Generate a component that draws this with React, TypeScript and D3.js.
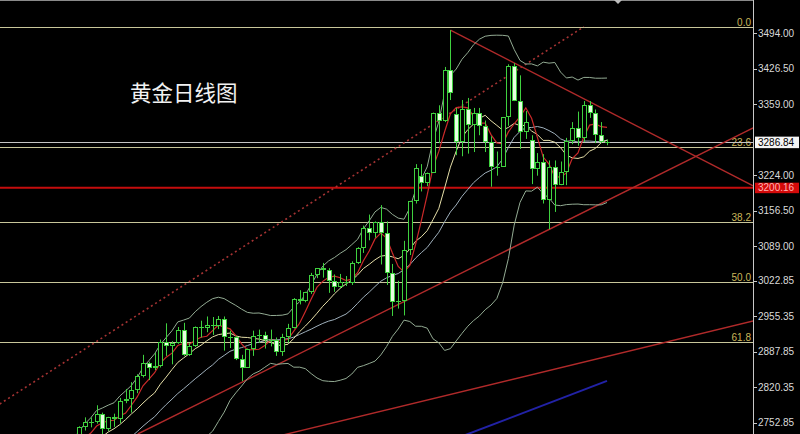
import React from 'react';
import * as d3 from 'd3';

const W = 800;
const H = 434;

const title = '黄金日线图';

const dates = [
  '2024-12-02','2024-12-03','2024-12-04','2024-12-05','2024-12-06','2024-12-09','2024-12-10','2024-12-11','2024-12-12','2024-12-13',
  '2024-12-16','2024-12-17','2024-12-18','2024-12-19','2024-12-20','2024-12-23','2024-12-24','2024-12-26','2024-12-27','2024-12-30',
  '2024-12-31','2025-01-02','2025-01-03','2025-01-06','2025-01-07','2025-01-08','2025-01-09','2025-01-10','2025-01-13','2025-01-14',
  '2025-01-15','2025-01-16','2025-01-17','2025-01-20','2025-01-21','2025-01-22','2025-01-23','2025-01-24','2025-01-27','2025-01-28',
  '2025-01-29','2025-01-30','2025-01-31','2025-02-03','2025-02-04','2025-02-05','2025-02-06','2025-02-07','2025-02-10','2025-02-11',
  '2025-02-12','2025-02-13','2025-02-14','2025-02-17','2025-02-18','2025-02-19','2025-02-20','2025-02-21','2025-02-24','2025-02-25',
  '2025-02-26','2025-02-27','2025-02-28','2025-03-03','2025-03-04','2025-03-05','2025-03-06','2025-03-07','2025-03-10','2025-03-11',
  '2025-03-12','2025-03-13','2025-03-14','2025-03-17','2025-03-18','2025-03-19','2025-03-20','2025-03-21','2025-03-24','2025-03-25',
  '2025-03-26','2025-03-27','2025-03-28','2025-03-31','2025-04-01','2025-04-02','2025-04-03','2025-04-04','2025-04-07','2025-04-08',
  '2025-04-09','2025-04-10','2025-04-11','2025-04-14','2025-04-15','2025-04-16','2025-04-17','2025-04-21','2025-04-22','2025-04-23',
  '2025-04-24','2025-04-25','2025-04-28','2025-04-29','2025-04-30','2025-05-01','2025-05-02','2025-05-05','2025-05-06','2025-05-07',
  '2025-05-08','2025-05-09','2025-05-12','2025-05-13','2025-05-14','2025-05-15','2025-05-16','2025-05-19','2025-05-20','2025-05-21',
  '2025-05-22','2025-05-23','2025-05-26','2025-05-27','2025-05-28','2025-05-29',
];

const opens = [
  2651,2639,2643,2650,2632,2633,2661,2694,2718,2681,
  2648,2652,2646,2587,2594,2622,2612,2617,2634,2621,
  2606,2624,2658,2640,2635,2648,2661,2670,2689,2663,
  2677,2697,2715,2703,2708,2745,2755,2754,2770,2740,
  2763,2760,2794,2798,2815,2842,2866,2856,2861,2907,
  2898,2904,2929,2882,2898,2935,2933,2939,2936,2951,
  2915,2916,2875,2857,2893,2918,2920,2910,2910,2888,
  2916,2934,2988,2984,3001,3034,3047,3043,3023,3011,
  3020,3019,3057,3085,3124,3113,3134,3113,3037,2982,
  2985,3082,3175,3222,3210,3229,3343,3327,3424,3340,
  3288,3349,3319,3343,3317,3288,3239,3240,3334,3431,
  3365,3306,3290,3235,3249,3177,3240,3205,3230,3289,
  3314,3294,3357,3342,3300,3288,
];

const highs = [
  2658,2650,2658,2656,2645,2668,2698,2726,2721,2689,
  2660,2655,2659,2625,2632,2631,2622,2638,2638,2632,
  2626,2661,2665,2650,2654,2670,2674,2697,2691,2684,
  2699,2724,2726,2715,2746,2763,2763,2786,2772,2764,
  2770,2800,2817,2830,2845,2882,2869,2886,2911,2942,
  2908,2935,2943,2904,2936,2947,2955,2954,2956,2955,
  2928,2918,2882,2894,2928,2930,2926,2930,2915,2922,
  2941,2990,3005,3002,3038,3047,3057,3047,3035,3036,
  3032,3060,3087,3128,3149,3136,3167,3136,3055,3023,
  3099,3175,3245,3245,3229,3343,3357,3430,3500,3352,
  3367,3371,3352,3352,3328,3298,3269,3334,3435,3437,
  3414,3346,3300,3266,3264,3252,3252,3250,3295,3325,
  3345,3365,3365,3349,3325,3292,
];

const lows = [
  2622,2628,2631,2613,2614,2630,2654,2688,2679,2643,
  2642,2630,2584,2583,2591,2604,2611,2614,2615,2597,
  2599,2623,2635,2614,2623,2644,2656,2662,2656,2660,
  2667,2690,2700,2690,2700,2738,2744,2751,2730,2737,
  2745,2752,2790,2772,2809,2839,2834,2853,2858,2880,
  2864,2903,2880,2880,2897,2915,2925,2920,2931,2890,
  2895,2872,2832,2857,2880,2905,2894,2898,2880,2880,
  2905,2932,2978,2982,2998,3028,3029,3000,3002,3009,
  3013,3015,3055,3076,3100,3105,3054,3015,2956,2970,
  2957,3072,3170,3193,3203,3228,3285,3325,3367,3262,
  3260,3265,3268,3300,3268,3202,3223,3240,3318,3365,
  3274,3293,3207,3223,3170,3121,3154,3205,3205,3283,
  3280,3287,3333,3285,3285,3281,
];

const closes = [
  2639,2643,2650,2632,2633,2661,2694,2718,2681,2648,
  2652,2646,2587,2594,2622,2612,2617,2634,2621,2606,
  2624,2658,2640,2635,2648,2661,2670,2689,2663,2677,
  2697,2715,2703,2708,2745,2755,2754,2770,2740,2763,
  2760,2794,2798,2815,2842,2866,2856,2861,2907,2898,
  2904,2929,2882,2898,2935,2933,2939,2936,2951,2915,
  2916,2875,2857,2893,2918,2920,2910,2910,2888,2916,
  2934,2988,2984,3001,3034,3047,3043,3023,3011,3020,
  3019,3057,3085,3124,3113,3134,3113,3037,2982,2985,
  3082,3175,3237,3210,3229,3343,3327,3424,3381,3288,
  3349,3319,3343,3317,3288,3239,3240,3334,3431,3365,
  3306,3325,3235,3249,3177,3240,3205,3230,3289,3314,
  3294,3357,3342,3300,3288,3287,
];

// price axis
const axisTicks = [3494.0, 3426.5, 3359.0, 3224.0, 3156.5, 3089.0, 3022.85, 2955.35, 2887.85, 2820.35, 2752.85];
const priceTop = 3557.4;
const priceBottom = 2731.3;

// Fibonacci retracement
const fibLevels = [0, 23.6, 38.2, 50.0, 61.8];
const fibLabels = ['0.0', '23.6', '38.2', '50.0', '61.8'];
const fibHigh = 3506;
const fibLow = 2535;

const bidPrice = 3286.84;
const redLevel = 3200.16;

// trend lines: [bars back from last candle, price]
const dottedChannel = [[104.7, 2788.4], [3.97, 3506.6]];
const descendLine = [[27, 3500], [-25.2, 3203.4]];
const supportLine = [[80.9, 2731.3], [-25.2, 3313.8]];
const lowerLine = [[56.4, 2728], [-25.2, 2946.4]];
const blueLine = [[25, 2727], [0, 2832.3]];

const BAR_SPACING = 5.8;
const LAST_X = 607;
const PLOT_R = 753;

const MA_FAST = 5;
const MA_MID = 10;
const BB_N = 20;

function sma(vals: number[], n: number): (number | null)[] {
  return vals.map((_, i) => (i < n - 1 ? null : d3.mean(vals.slice(i - n + 1, i + 1)) as number));
}
function sdev(vals: number[], n: number): (number | null)[] {
  return vals.map((_, i) => {
    if (i < n - 1) return null;
    const s = vals.slice(i - n + 1, i + 1);
    const m = d3.mean(s) as number;
    return Math.sqrt(d3.mean(s.map((v) => (v - m) * (v - m))) as number);
  });
}

export default function App() {
  const N = dates.length;
  const last = N - 1;
  const x = d3.scaleLinear()
    .domain([last - LAST_X / BAR_SPACING, last + (PLOT_R - LAST_X) / BAR_SPACING])
    .range([0, PLOT_R]);
  const y = d3.scaleLinear().domain([priceBottom, priceTop]).range([H, 0]);

  const ma5 = sma(closes, MA_FAST);
  const ma10 = sma(closes, MA_MID);
  const mid = sma(closes, BB_N);
  const sd = sdev(closes, BB_N);
  const upper = mid.map((m, i) => (m == null ? null : m + 2 * (sd[i] as number)));
  const lower = mid.map((m, i) => (m == null ? null : m - 2 * (sd[i] as number)));

  const line = d3.line<number | null>()
    .defined((d) => d != null)
    .x((_, i) => x(i))
    .y((d) => y(d as number));

  const tl = (pts: number[][]) =>
    d3.line<number[]>().x((p) => x(last - p[0])).y((p) => y(p[1]))(pts) as string;

  const green = '#3fd13f';
  const fibColor = '#c8c69a';
  const fibText = '#cbb75a';
  const trendRed = '#b02a2a';
  const axisFont = 'Liberation Sans, Arial, sans-serif';

  return (
    <svg width={W} height={H} style={{ position: 'absolute', left: 0, top: 0, display: 'block', background: '#000' }}>
      <defs>
        <clipPath id="plot">
          <rect x={0} y={0} width={PLOT_R} height={H} />
        </clipPath>
      </defs>
      <rect x={0} y={0} width={W} height={H} fill="#000" />

      <g clipPath="url(#plot)">
        {/* fib lines */}
        {fibLevels.map((lv, i) => {
          const p = fibHigh - ((fibHigh - fibLow) * lv) / 100;
          const yy = Math.round(y(p)) + 0.5;
          return (
            <g key={'fib' + i}>
              <line x1={0} x2={PLOT_R} y1={yy} y2={yy} stroke={fibColor} strokeWidth={1} />
              <text x={PLOT_R - 2} y={yy - 1.5} textAnchor="end" fontFamily={axisFont} fontSize={10} fill={fibText}>
                {fibLabels[i]}
              </text>
            </g>
          );
        })}
        {/* bid line */}
        <line x1={0} x2={PLOT_R} y1={Math.round(y(bidPrice)) + 0.5} y2={Math.round(y(bidPrice)) + 0.5} stroke="#c4c4c4" strokeWidth={1} />
        {/* red horizontal */}
        <line x1={0} x2={PLOT_R} y1={y(redLevel)} y2={y(redLevel)} stroke="#c40d0d" strokeWidth={2} />

        {/* trend lines */}
        <path d={tl(dottedChannel)} stroke="#a53333" strokeWidth={1.6} strokeDasharray="2 3" fill="none" />
        <path d={tl(descendLine)} stroke={trendRed} strokeWidth={1.4} fill="none" />
        <path d={tl(supportLine)} stroke={trendRed} strokeWidth={1.4} fill="none" />
        <path d={tl(lowerLine)} stroke={trendRed} strokeWidth={1.4} fill="none" />
        <path d={tl(blueLine)} stroke="#2222a6" strokeWidth={2} fill="none" />

        {/* Bollinger bands & MAs */}
        <path d={line(upper) as string} stroke="#93ab93" strokeWidth={1} fill="none" />
        <path d={line(lower) as string} stroke="#93ab93" strokeWidth={1} fill="none" />
        <path d={line(mid) as string} stroke="#9fb0bc" strokeWidth={1} fill="none" />
        <path d={line(ma10) as string} stroke="#e6dfa8" strokeWidth={1} fill="none" />
        <path d={line(ma5) as string} stroke="#cc2a2a" strokeWidth={1.2} fill="none" />

        {/* candles */}
        {dates.map((d, i) => {
          const c = Math.round(x(i));
          const o = opens[i];
          const cl = closes[i];
          const yh = y(highs[i]);
          const yl = y(lows[i]);
          const top = Math.round(y(Math.max(o, cl)));
          const bot = Math.round(y(Math.min(o, cl)));
          const h = Math.max(1, bot - top);
          const bull = cl >= o;
          return (
            <g key={d}>
              <rect x={c} y={yh} width={1} height={yl - yh} fill={green} />
              <rect x={c - 2} y={top} width={5} height={h} fill={green} />
              {h > 2 && (
                <rect x={c - 1} y={top + 1} width={3} height={h - 2} fill={bull ? '#000' : '#e8ffe2'} />
              )}
            </g>
          );
        })}
      </g>

      {/* frame */}
      <line x1={0} x2={PLOT_R} y1={0.5} y2={0.5} stroke="#8a8a8a" strokeWidth={1} />
      <line x1={PLOT_R + 0.5} x2={PLOT_R + 0.5} y1={0} y2={H} stroke="#c8c8c8" strokeWidth={1} />
      <polygon points={`${x(last + 1.9) - 4},0 ${x(last + 1.9) + 4},0 ${x(last + 1.9)},4`} fill="#bdbdbd" />

      {/* axis ticks */}
      {axisTicks.map((t) => (
        <g key={'t' + t}>
          <line x1={PLOT_R} x2={PLOT_R + 4} y1={Math.round(y(t)) + 0.5} y2={Math.round(y(t)) + 0.5} stroke="#c8c8c8" />
          <text x={PLOT_R + 5} y={y(t) + 3.6} fontFamily={axisFont} fontSize={10} fill="#dadada">
            {t.toFixed(2)}
          </text>
        </g>
      ))}

      {/* price labels */}
      <rect x={PLOT_R + 2} y={y(bidPrice) - 5.5} width={44} height={11.5} fill="#f4f4f4" />
      <text x={PLOT_R + 5} y={y(bidPrice) + 3.8} fontFamily={axisFont} fontSize={10} fill="#000">
        {bidPrice.toFixed(2)}
      </text>
      <rect x={PLOT_R + 2} y={y(redLevel) - 5} width={44} height={10.5} fill="#d40a0a" />
      <text x={PLOT_R + 5} y={y(redLevel) + 3.6} fontFamily={axisFont} fontSize={10} fill="#ffb3b3">
        {redLevel.toFixed(2)}
      </text>

      {/* title */}
      <text x={130} y={101} fontFamily="Noto Sans CJK SC, sans-serif" fontSize={21.5} fill="#f2f2f2">
        {title}
      </text>
    </svg>
  );
}
